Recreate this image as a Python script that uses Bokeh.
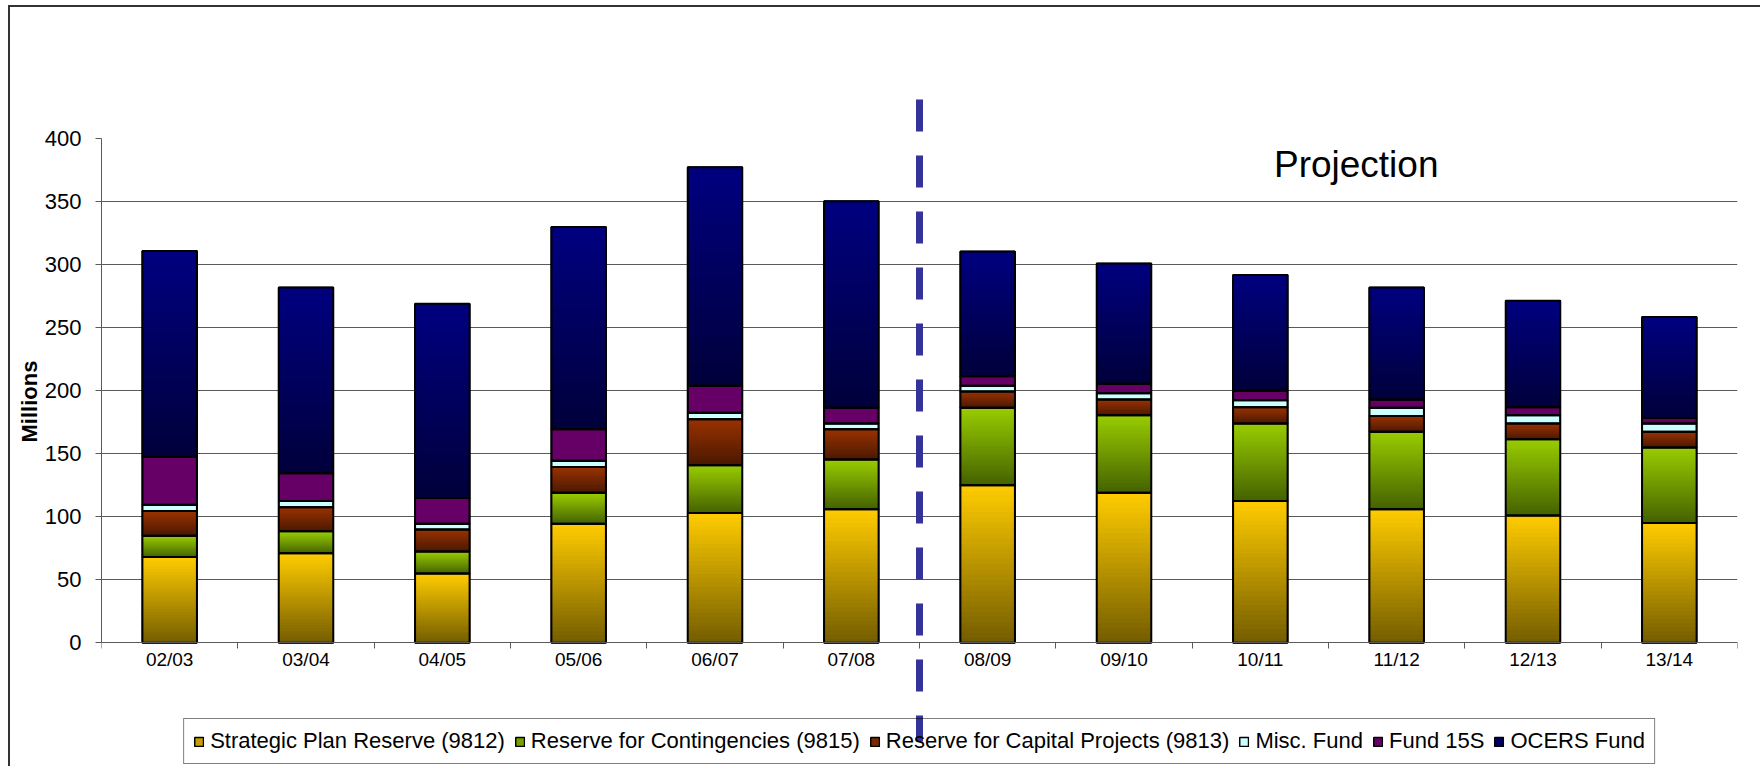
import numpy as np
from bokeh.plotting import figure
from bokeh.models import ColumnDataSource, Range1d, FixedTicker, Legend, LegendItem, Label, Title
from bokeh.embed import file_html
from bokeh.resources import INLINE

categories = ["02/03", "03/04", "04/05", "05/06", "06/07", "07/08",
              "08/09", "09/10", "10/11", "11/12", "12/13", "13/14"]
strategic = [68, 71, 55, 94.5, 103, 106, 125, 119, 112.5, 106, 101, 95]
contingencies = [17, 17.5, 17.5, 24.5, 38, 39.5, 61.5, 61.5, 61.5, 61.5, 60.5, 60]
capital = [19.5, 19, 17.5, 20.5, 36.5, 24, 13, 12.5, 13, 12.5, 12.5, 12.5]
misc = [5, 5, 4.5, 5, 5, 4.5, 4.5, 5, 5.5, 6.5, 6.5, 6.5]
fund15s = [38, 22, 20.5, 25, 21.5, 12.5, 7.5, 7.5, 7.5, 6.5, 6.5, 4.5]
ocers = [163.5, 147.5, 154, 160.5, 173.5, 164, 99, 95.5, 92, 89, 84.5, 80]
series_names = ["Strategic Plan Reserve (9812)", "Reserve for Contingencies (9815)",
                "Reserve for Capital Projects (9813)", "Misc. Fund", "Fund 15S", "OCERS Fund"]
y_ticks = [0, 50, 100, 150, 200, 250, 300, 350, 400]
projection_start = "08/09"

top_colors = ["#FFCC00", "#99CC00", "#993300", "#CCFFFF", "#660066", "#000080"]
bottom_colors = ["#735C00", "#446100", "#4A1900", "#CCFFFF", "#660066", "#00003A"]

FONT = "Liberation Sans"


def hex2rgb(h):
    h = h.lstrip("#")
    return np.array([int(h[i:i + 2], 16) for i in (0, 2, 4)], dtype=float)


def mix(c0, c1, f):
    a, b = hex2rgb(c0), hex2rgb(c1)
    c = a + (b - a) * f
    return "#%02x%02x%02x" % tuple(int(round(v)) for v in c)


n = len(categories)
xs = [i + 0.5 for i in range(n)]
BAR_W = 0.4

# frame: top at 99px, x-axis (0) at 642.3px, bottom at 766px; 1.26 px per unit
p = figure(width=1760, height=766, output_backend="svg", toolbar_location=None,
           x_range=Range1d(0, n), y_range=Range1d(-98.2, 431.2), x_axis_location="above",
           min_border_left=101, min_border_right=23, min_border_top=99, min_border_bottom=0)
p.border_fill_color = None
p.background_fill_color = None
p.outline_line_color = None
p.styles = {"box-shadow": "inset 8px 5px 0 0 #ffffff, inset 10px 7px 0 0 #333333"}

series = [strategic, contingencies, capital, misc, fund15s, ocers]
base = np.zeros(n)
legend_items = []
all_x, all_b, all_t = [], [], []
NS = 30
for si, vals in enumerate(series):
    vals = np.array(vals, dtype=float)
    bottoms = base.copy()
    tops = base + vals
    src = ColumnDataSource(dict(x=xs, bottom=bottoms, top=tops))
    mid = mix(bottom_colors[si], top_colors[si], 0.6)
    r = p.vbar(x="x", width=BAR_W, bottom="bottom", top="top", source=src,
               fill_color=mid, line_color="black", line_width=1.5)
    legend_items.append(LegendItem(label=series_names[si], renderers=[r]))
    if top_colors[si] != bottom_colors[si]:
        sx, sb, st, sc = [], [], [], []
        for i in range(n):
            h = tops[i] - bottoms[i]
            for k in range(NS):
                sx.append(xs[i])
                sb.append(bottoms[i] + h * k / NS)
                st.append(bottoms[i] + h * (k + 1) / NS)
                sc.append(mix(bottom_colors[si], top_colors[si], (k + 0.5) / NS))
        ssrc = ColumnDataSource(dict(x=sx, bottom=sb, top=st, c=sc))
        p.vbar(x="x", width=BAR_W, bottom="bottom", top="top", source=ssrc,
               fill_color="c", line_color="c", line_width=1)
    all_x += xs
    all_b += list(bottoms)
    all_t += list(tops)
    base = tops

p.vbar(x=all_x, width=BAR_W, bottom=all_b, top=all_t,
       fill_color=None, line_color="black", line_width=2)

# axes
AX_COL = "#5a5a5a"
p.yaxis.ticker = FixedTicker(ticks=y_ticks)
p.yaxis.bounds = (0, 400)
p.yaxis.major_label_text_font = FONT
p.yaxis.major_label_text_font_size = "22px"
p.yaxis.major_label_text_color = "black"
p.yaxis.major_tick_out = 6
p.yaxis.major_tick_in = 0
p.yaxis.major_label_standoff = 14
p.yaxis.axis_line_color = AX_COL
p.yaxis.major_tick_line_color = AX_COL

p.add_layout(Title(text="Millions", text_font=FONT, text_font_size="22px",
                   text_font_style="bold", text_color="black",
                   align="left", offset=324, standoff=0), "left")

# category axis drawn at y = 0, labels hanging below the axis line
p.xaxis.fixed_location = 0
p.xaxis.ticker = FixedTicker(ticks=xs, minor_ticks=list(range(n + 1)))
p.xaxis.major_label_overrides = {x: c for x, c in zip(xs, categories)}
p.xaxis.major_tick_out = 2
p.xaxis.major_tick_in = 0
p.xaxis.major_tick_line_color = None
p.xaxis.minor_tick_out = 0
p.xaxis.minor_tick_in = 6
p.xaxis.major_label_standoff = -29
p.xaxis.major_label_text_font = FONT
p.xaxis.major_label_text_font_size = "19px"
p.xaxis.major_label_text_color = "black"
p.xaxis.axis_line_color = AX_COL
p.xaxis.minor_tick_line_color = AX_COL

p.xgrid.visible = False
p.ygrid.ticker = FixedTicker(ticks=y_ticks[1:-1])
p.ygrid.grid_line_color = AX_COL
p.ygrid.grid_line_width = 1

legend = Legend(items=legend_items, orientation="horizontal", location="bottom_center",
                label_text_font=FONT, label_text_font_size="22px", label_text_color="black",
                glyph_width=11, glyph_height=11, label_standoff=6, spacing=9,
                padding=9, margin=2, border_line_color="black", border_line_width=1,
                background_fill_alpha=0)
p.add_layout(legend, "center")

p.add_layout(Label(x=8.60, y=380, text="Projection", text_font=FONT,
                   text_font_size="37px", text_baseline="alphabetic", text_color="black"))

div_x = categories.index(projection_start)
p.segment(x0=[div_x], y0=[431.2], x1=[div_x], y1=[-78.3], line_color="#333399",
          line_width=7, line_dash="32 24", level="overlay")

open("out.html", "w").write(file_html(p, INLINE))
